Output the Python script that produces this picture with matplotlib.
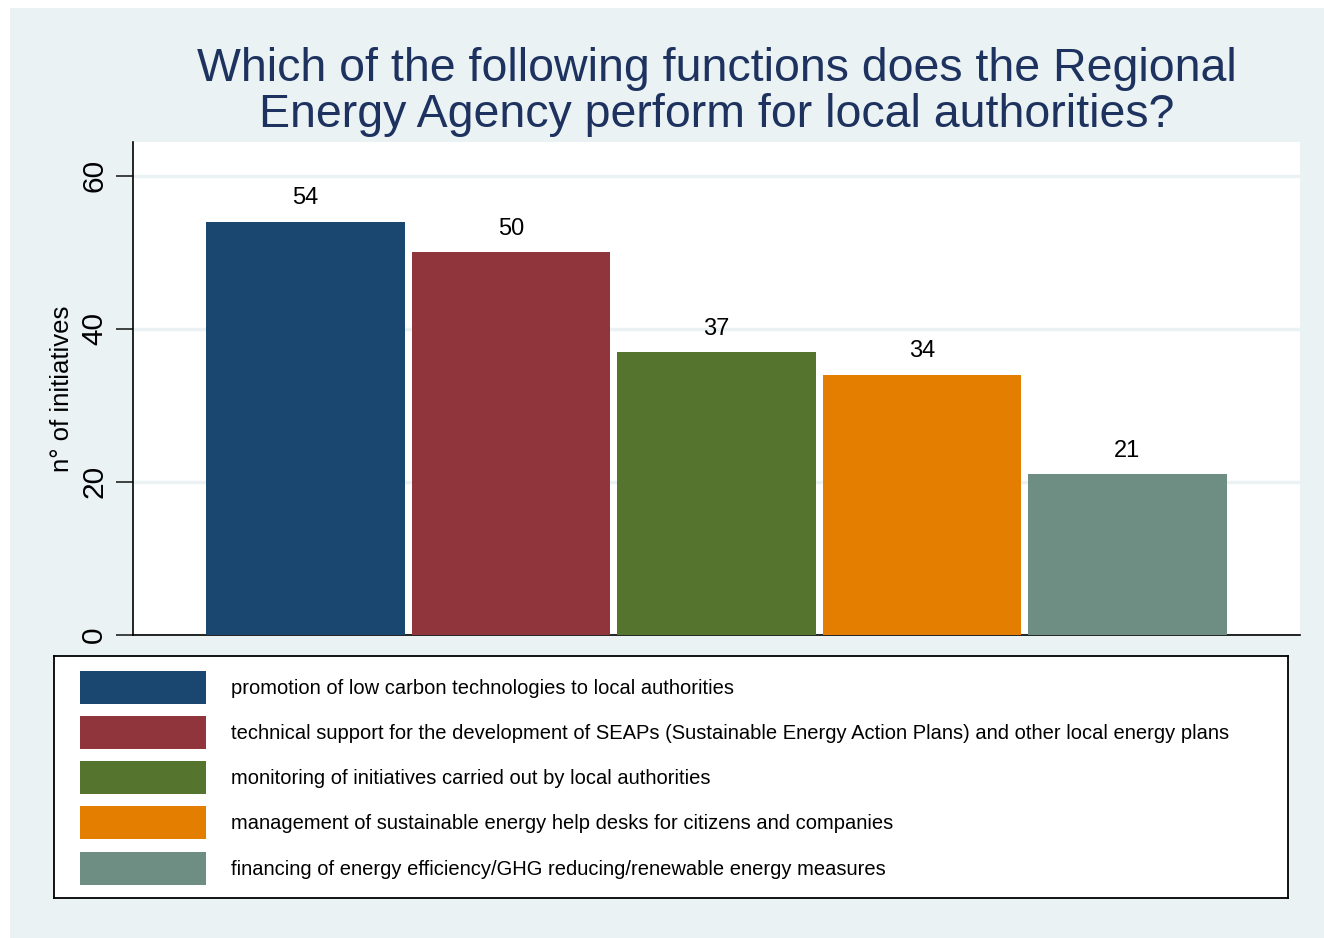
import matplotlib.pyplot as plt
from matplotlib.patches import Rectangle

plt.rcParams['font.family'] = ['Liberation Sans', 'DejaVu Sans']

# data
functions = [
    "promotion of low carbon technologies to local authorities",
    "technical support for the development of SEAPs (Sustainable Energy Action Plans) and other local energy plans",
    "monitoring of initiatives carried out by local authorities",
    "management of sustainable energy help desks for citizens and companies",
    "financing of energy efficiency/GHG reducing/renewable energy measures",
]
counts = [54, 50, 37, 34, 21]
colors = ["#1a476f", "#90353b", "#55752f", "#e37e00", "#6e8e84"]
yticks = [0, 20, 40, 60]

bg = "#eaf2f3"
W, H = 1324, 938

fig = plt.figure(figsize=(13.24, 9.38), dpi=100)
fig.patch.set_facecolor("white")
# light panel behind everything
fig.patches.append(Rectangle((10 / W, 0), 1 - 10 / W, 1 - 8 / H,
                             transform=fig.transFigure, facecolor=bg,
                             edgecolor="none", zorder=-10))

ax = fig.add_axes([133 / W, 1 - 635 / H, (1300 - 133) / W, (635 - 142) / H])
ax.set_facecolor("white")

x = list(range(len(counts)))
ax.bar(x, counts, width=0.967, color=colors, zorder=3)
for xi, v in zip(x, counts):
    ax.text(xi, v + 1.6, str(v), ha="center", va="bottom", fontsize=17, color="black")

ax.set_xlim(-0.84, 4.84)
ax.set_ylim(0, 64.4)
ax.set_xticks([])
ax.set_yticks(yticks)
ax.set_yticklabels([str(t) for t in yticks], rotation=90, va="center", fontsize=21.5)
ax.tick_params(axis="y", length=12, width=1.2, pad=6, color="#222222")
ax.grid(axis="y", color=bg, linewidth=2.5, zorder=0)
for s in ["top", "right"]:
    ax.spines[s].set_visible(False)
ax.spines["left"].set_linewidth(1.2)
ax.spines["bottom"].set_linewidth(1.2)
ax.set_ylabel("n° of initiatives", fontsize=18.5, labelpad=4)

fig.text(717 / W, 1 - 92 / H,
         "Which of the following functions does the Regional\nEnergy Agency perform for local authorities?",
         ha="center", va="center", fontsize=33.5, color="#1e325f", linespacing=1.05)

# legend box drawn as its own axes (pixel units inside the box)
lx0, ly0, lx1, ly1 = 54, 656, 1288, 898
lax = fig.add_axes([lx0 / W, 1 - ly1 / H, (lx1 - lx0) / W, (ly1 - ly0) / H])
lax.set_xlim(0, lx1 - lx0)
lax.set_ylim(ly1 - ly0, 0)
lax.set_xticks([])
lax.set_yticks([])
lax.set_facecolor("white")
for s in lax.spines.values():
    s.set_linewidth(1.3)
    s.set_color("black")
row_gap = 45.25
for i, (lab, c) in enumerate(zip(functions, colors)):
    yc = 31 + i * row_gap
    lax.add_patch(Rectangle((26, yc - 16.5), 126, 33, facecolor=c, edgecolor="none"))
    lax.text(177, yc + 1, lab, ha="left", va="center", fontsize=14.5, color="black")

fig.savefig("out.png", dpi=100, facecolor=fig.get_facecolor())
